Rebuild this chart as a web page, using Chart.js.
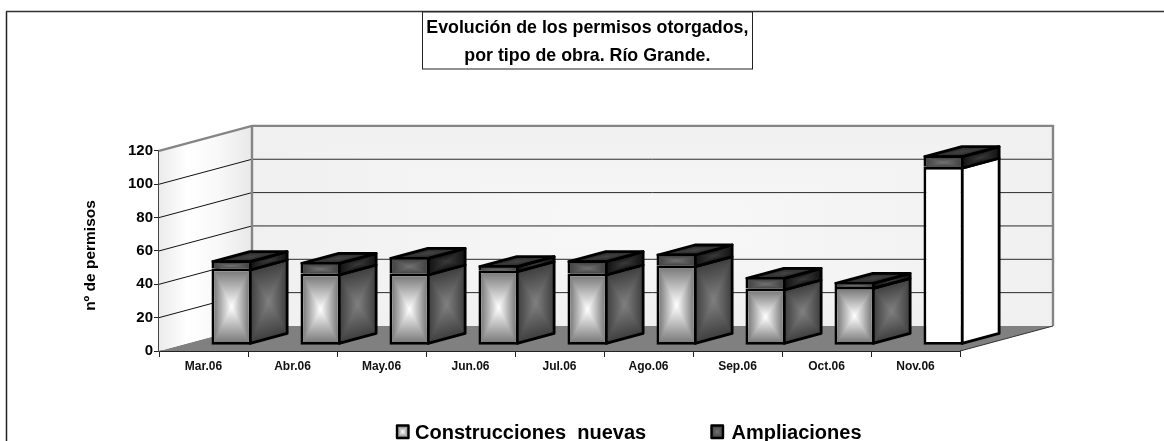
<!DOCTYPE html>
<html><head><meta charset="utf-8">
<style>html,body{margin:0;padding:0;background:#fff}canvas{display:block}</style>
<script src="https://cdn.jsdelivr.net/npm/chart.js@4"></script>
</head><body>
<div style="width:1164px;height:441px"><canvas id="c" width="1164" height="441"></canvas></div>
<script>
const categories = ['Mar.06','Abr.06','May.06','Jun.06','Jul.06','Ago.06','Sep.06','Oct.06','Nov.06'];
const construcciones = [46,43,43,45,43,48,34,35,107];
const ampliaciones = [5,7,10,3,8,7,7,3,7];
const yTicks = [0,20,40,60,80,100,120];
const plainCategories = ['Nov.06'];
const titleLines = ['Evolución de los permisos otorgados,','por tipo de obra. Río Grande.'];
const yAxisTitle = 'nº de permisos';
const seriesNames = ['Construcciones  nuevas','Ampliaciones'];

const FONT = '"Liberation Sans", Arial, sans-serif';
const WALL = {x:93,y:-25};      // depth of the 3D floor
const SHIFT = {x:28,y:-5.7};    // position of the bars within the depth
const DEPTH = {x:37,y:-10};     // depth of each bar
const BW = 2.8;

function drawBox(ctx,ax,ay,ux,uy,vx,vy,inner,outer){
  ctx.save();
  ctx.transform(ux,uy,vx,vy,ax,ay);
  const g1=ctx.createLinearGradient(0,0,0,1);
  g1.addColorStop(0,outer);g1.addColorStop(.5,inner);g1.addColorStop(1,outer);
  ctx.fillStyle=g1;ctx.fillRect(0,0,1,1);
  const g2=ctx.createLinearGradient(0,0,1,0);
  g2.addColorStop(0,outer);g2.addColorStop(.5,inner);g2.addColorStop(1,outer);
  ctx.fillStyle=g2;
  ctx.beginPath();ctx.moveTo(0,0);ctx.lineTo(.5,.5);ctx.lineTo(0,1);ctx.closePath();ctx.fill();
  ctx.beginPath();ctx.moveTo(1,0);ctx.lineTo(.5,.5);ctx.lineTo(1,1);ctx.closePath();ctx.fill();
  ctx.restore();
}
function outline(ctx,pts,color,w){
  ctx.save();ctx.strokeStyle=color;ctx.lineWidth=w;ctx.lineJoin='round';
  ctx.beginPath();pts.forEach((p,i)=>i?ctx.lineTo(p[0],p[1]):ctx.moveTo(p[0],p[1]));ctx.closePath();ctx.stroke();ctx.restore();
}
function seg(ctx,x0,y0,x1,y1,color,w){
  ctx.save();ctx.strokeStyle=color;ctx.lineWidth=w;ctx.beginPath();ctx.moveTo(x0,y0);ctx.lineTo(x1,y1);ctx.stroke();ctx.restore();
}
const isPlain=i=>plainCategories.includes(categories[i]);
const faceStyle={
  0:{front:['#ffffff','#7c7c7c'],side:['#808080','#3e3e3e']},
  1:{front:['#727272','#444444'],side:['#3a3a3a','#111111'],top:['#444444','#262626']}
};

const scene={
  id:'scene',
  afterLayout(chart){
    // title box is centred on its own frame, not on the plot
    chart.titleBlock.left=422;chart.titleBlock.right=752.7;
  },
  beforeDraw(chart){
    const c=chart.ctx;
    c.save();
    c.fillStyle='#fff';c.fillRect(0,0,1164,441);
    seg(c,6.5,441,6.5,11.5,'#222',1.5);
    seg(c,6,11.5,1164,11.5,'#333',1.5);
    c.fillStyle='#fff';c.fillRect(422,12,330.7,57);
    c.strokeStyle='#222';c.lineWidth=1;c.strokeRect(422.5,12,330,57);
    c.restore();
    // axis title and legend
    c.save();
    c.fillStyle='#000';c.font='bold 15.5px '+FONT;c.textAlign='center';c.textBaseline='middle';
    c.translate(91,255.5);c.rotate(-Math.PI/2);c.fillText(yAxisTitle,0,0);c.restore();
    c.save();
    c.fillStyle='#000';c.font='bold 20px '+FONT;c.textAlign='left';c.textBaseline='alphabetic';
    c.fillText(seriesNames[0],415,439);c.fillText(seriesNames[1],731.5,439);
    drawBox(c,397,425.5,11.5,0,0,12.5,'#ffffff','#787878');outline(c,[[397,425.5],[408.5,425.5],[408.5,438],[397,438]],'#000',2.4);
    drawBox(c,711.5,425.5,11.5,0,0,12.5,'#727272','#3e3e3e');outline(c,[[711.5,425.5],[723,425.5],[723,438],[711.5,438]],'#000',2.4);
    c.restore();
  },
  beforeDatasetsDraw(chart){
    const c=chart.ctx,a=chart.chartArea,yS=chart.scales.y;
    const L=a.left,R=a.right,T=a.top,B=a.bottom;
    // floor
    c.save();
    c.fillStyle='#808080';
    c.beginPath();c.moveTo(L,B);c.lineTo(L+WALL.x,B+WALL.y);c.lineTo(R+WALL.x,B+WALL.y);c.lineTo(R,B);c.closePath();c.fill();
    // back wall
    drawBox(c,L+WALL.x,T+WALL.y,R-L,0,0,B-T,'#f8f8f8','#f0f0f0');
    // left wall
    const g=c.createLinearGradient(L,0,L+WALL.x,0);
    g.addColorStop(0,'#ebebeb');g.addColorStop(.3,'#ffffff');g.addColorStop(.65,'#f8f8f8');g.addColorStop(1,'#e8e8e8');
    c.fillStyle=g;c.beginPath();c.moveTo(L,T);c.lineTo(L+WALL.x,T+WALL.y);c.lineTo(L+WALL.x,B+WALL.y);c.lineTo(L,B);c.closePath();c.fill();
    // grid lines
    yS.ticks.forEach(t=>{
      if(t.value===0||t.value===yS.max) return;
      const y=yS.getPixelForValue(t.value);
      seg(c,L,y,L+WALL.x,y+WALL.y,'#111',1);
      seg(c,L+WALL.x,y+WALL.y,R+WALL.x,y+WALL.y,'#2a2a2a',1);
    });
    // frame of the walls
    c.lineJoin='miter';
    c.strokeStyle='#858585';c.lineWidth=2.4;
    c.beginPath();c.moveTo(L,T);c.lineTo(L+WALL.x,T+WALL.y);c.lineTo(R+WALL.x,T+WALL.y);c.lineTo(R+WALL.x,B+WALL.y);c.stroke();
    c.beginPath();c.moveTo(L+WALL.x,T+WALL.y);c.lineTo(L+WALL.x,B+WALL.y);c.stroke();
    seg(c,R,B,R+WALL.x,B+WALL.y,'#333',1);
    // bar depth faces
    [0,1].forEach(ds=>{
      chart.getDatasetMeta(ds).data.forEach((el,i)=>{
        const xr=el.x+el.width/2-BW/2+SHIFT.x;
        const xl=el.x-el.width/2+BW/2+SHIFT.x;
        const top=el.y+BW/2+SHIFT.y;
        const bot=(ds===0?el.base-BW/2:el.base+BW/2)+SHIFT.y;
        const st=faceStyle[ds];
        const pl=isPlain(i)&&ds===0;
        const side=pl?['#ffffff','#ffffff']:st.side;
        drawBox(c,xr,top,DEPTH.x,DEPTH.y,0,bot-top,side[0],side[1]);
        outline(c,[[xr,top],[xr+DEPTH.x,top+DEPTH.y],[xr+DEPTH.x,bot+DEPTH.y],[xr,bot]],'#000',BW);
        if(ds===1){
          drawBox(c,xl,top,xr-xl,0,DEPTH.x,DEPTH.y,st.top[0],st.top[1]);
          outline(c,[[xl,top],[xr,top],[xr+DEPTH.x,top+DEPTH.y],[xl+DEPTH.x,top+DEPTH.y]],'#000',BW);
        }
      });
    });
    c.restore();
    c.save();
    c.translate(SHIFT.x,SHIFT.y);
  },
  afterDatasetsDraw(chart){
    const c=chart.ctx;
    c.restore();
    [0,1].forEach(ds=>{
      chart.getDatasetMeta(ds).data.forEach((el,i)=>{
        if(isPlain(i)&&ds===0) return;
        const x0=el.x-el.width/2+BW+SHIFT.x, x1=el.x+el.width/2-BW+SHIFT.x;
        const y0=el.y+BW+SHIFT.y, y1=(ds===0?el.base-BW:el.base)+SHIFT.y;
        const f=faceStyle[ds].front;
        drawBox(c,x0,y0,x1-x0,0,0,y1-y0,f[0],f[1]);
      });
    });
  }
};

new Chart(document.getElementById('c'),{
  type:'bar',
  data:{labels:categories,datasets:[
    {label:seriesNames[0],data:construcciones,backgroundColor:'#ffffff',borderColor:'#000',borderWidth:BW,borderSkipped:false,stack:'a',clip:false},
    {label:seriesNames[1],data:ampliaciones,backgroundColor:'#555555',borderColor:'#000',borderWidth:BW,borderSkipped:'bottom',stack:'a',clip:false}
  ]},
  plugins:[scene],
  options:{
    responsive:false,animation:false,
    barPercentage:.45,categoryPercentage:1,
    layout:{padding:{left:82,right:204,top:0,bottom:60}},
    plugins:{
      legend:{display:false},tooltip:{enabled:false},
      title:{display:true,text:titleLines,color:'#000',font:{family:FONT,size:17.8,weight:'bold',lineHeight:1.57},padding:{top:14,bottom:81}}
    },
    scales:{
      x:{stacked:true,
        afterFit(s){s.height=30;},
        grid:{display:true,drawOnChartArea:false,drawTicks:true,tickLength:6,color:'#222',tickWidth:1},
        border:{display:true,color:'#222',width:2},
        ticks:{autoSkip:false,maxRotation:0,padding:2,color:'#111',font:{family:FONT,size:12,weight:'bold'}}
      },
      y:{stacked:true,min:0,max:120,
        afterFit(s){s.width=77;},
        afterBuildTicks(s){s.ticks=yTicks.map(v=>({value:v}));},
        grid:{display:true,drawOnChartArea:false,drawTicks:true,tickLength:5,color:'#222',tickWidth:1},
        border:{display:true,color:'#444',width:2},
        ticks:{padding:1,color:'#000',font:{family:FONT,size:15,weight:'bold'}}
      }
    }
  }
});
</script>
</body></html>
